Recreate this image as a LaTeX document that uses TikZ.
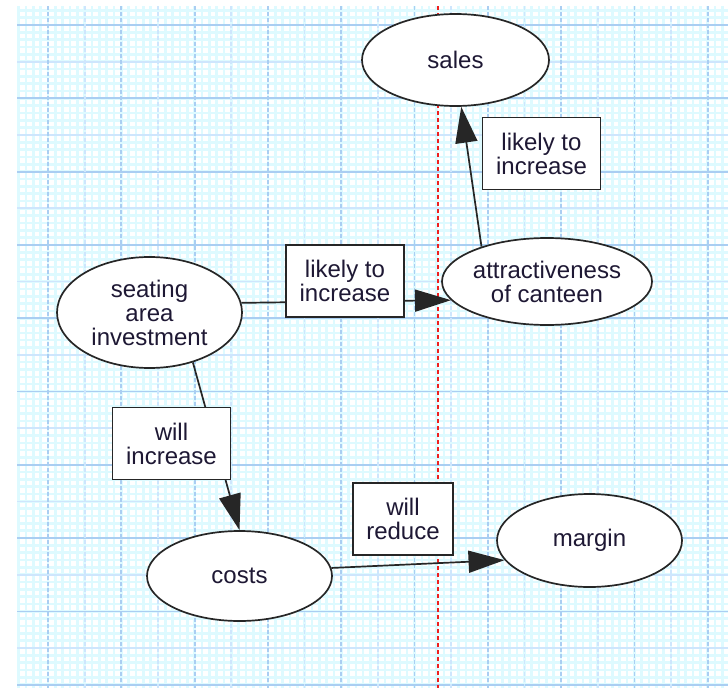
\documentclass[tikz,border=0pt]{standalone}
\usepackage{fontspec}
\setmainfont{Liberation Sans}
\usetikzlibrary{arrows.meta,shapes.geometric}
\definecolor{ink}{RGB}{30,24,52}
\definecolor{gridminor}{RGB}{222,250,255}
\definecolor{gridlight}{RGB}{206,230,253}
\definecolor{griddark}{RGB}{170,206,242}
\definecolor{pageline}{RGB}{240,30,30}

\begin{document}
\begin{tikzpicture}[x=1pt,y=-1pt,
  factor/.style={ellipse,draw=black!85,line width=1.7pt,fill=white,inner sep=0pt,
    minimum width=185pt,minimum height=92pt,text=ink,align=center,
    font=\fontsize{24}{24}\selectfont},
  effect/.style={rectangle,draw=black!85,line width=1.7pt,fill=white,inner xsep=13.5pt,
    inner ysep=0pt,minimum height=72pt,text=ink,align=center,
    font=\fontsize{24}{24}\selectfont},
  link/.style={draw=black!85,line width=1.7pt,-{Triangle[length=36pt,width=22pt]}}]
\useasboundingbox (0,0) rectangle (728,688);
\fill [white] (0,0) rectangle (728,688);
\foreach \k in {-2,...,90}
  \draw [gridminor,line width=2.6pt] (17,{25+7.33*\k}) -- (728,{25+7.33*\k});
\foreach \k in {-4,...,92}
  \draw [gridminor,line width=2.6pt] ({48+7.33*\k},6) -- ({48+7.33*\k},688);
\foreach \k in {1,3,...,17}
  \draw [gridlight,line width=1.8pt] (17,{25+36.65*\k}) -- (728,{25+36.65*\k});
\foreach \k in {0,2,...,18}
  \draw [griddark,line width=1.8pt] (17,{25+36.65*\k}) -- (728,{25+36.65*\k});
\foreach \k in {1,3,...,17}
  \draw [gridlight,line width=1.8pt,dash pattern=on 4pt off 2pt] ({48+36.65*\k},6) -- ({48+36.65*\k},688);
\foreach \k in {0,2,...,18}
  \draw [griddark,line width=1.8pt,dash pattern=on 4pt off 2pt] ({48+36.65*\k},6) -- ({48+36.65*\k},688);
\draw [pageline,line width=1.5pt,dash pattern=on 4pt off 3pt] (438,6) -- (438,688);

\node [factor,minimum width=187pt] (sales) at (455.5,60) {sales};
\node [factor,minimum width=210pt,minimum height=87pt] (attractiveness) at (547,281.5) {attractiveness\\of canteen};
\node [factor,minimum height=111pt] (seating) at (149.5,312.5) {seating\\area\\investment};
\node [factor,minimum height=90pt] (costs) at (239.5,576) {costs};
\node [factor,minimum height=93pt] (margin) at (589.5,540.5) {margin};

\draw [link] (attractiveness.152) -- (sales.277);
\draw [link] (seating.6) -- (attractiveness.191);
\draw [link] (seating.311) -- (costs.north);
\draw [link] (costs.5) -- (margin.193);

\node [effect] (salesrel) at (541.5,153.5) {likely to\\increase};
\node [effect] (attrrel) at (345,281) {likely to\\increase};
\node [effect] (costsrel) at (171.5,443.5) {will\\increase};
\node [effect] (marginrel) at (403,519) {will\\reduce};
\end{tikzpicture}
\end{document}
